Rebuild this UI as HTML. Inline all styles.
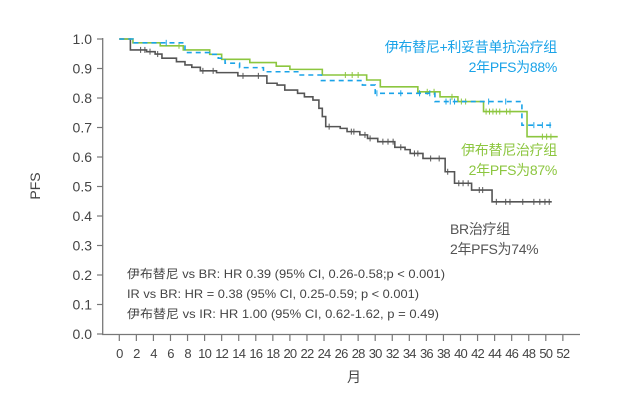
<!DOCTYPE html>
<html><head><meta charset="utf-8">
<style>
html,body{margin:0;padding:0;background:#fff;}
svg{display:block;font-family:"Liberation Sans","Noto Sans CJK SC",sans-serif;}
</style></head>
<body>
<svg id="chart" width="624" height="411" viewBox="0 0 624 411"></svg>
<script>
// ---- data ----
const xTicks = [0,2,4,6,8,10,12,14,16,18,20,22,24,26,28,30,32,34,36,38,40,42,44,46,48,50,52];
const yTicks = [0.0,0.1,0.2,0.3,0.4,0.5,0.6,0.7,0.8,0.9,1.0];
const brMonths = [0,1.3,3.2,4.2,5.0,6.7,7.7,8.5,9.5,11.4,13.9,17.3,18.5,19.4,20.9,21.7,22.7,23.4,23.8,24.2,25.9,26.7,28.2,29.1,30.3,32.3,33.5,34.1,35.6,38.2,39.3,41.3,43.7,50.7];
const brValues = [1.0,0.963,0.957,0.949,0.935,0.923,0.912,0.904,0.892,0.886,0.875,0.85,0.844,0.827,0.816,0.804,0.793,0.765,0.737,0.703,0.697,0.686,0.675,0.663,0.652,0.633,0.625,0.612,0.595,0.55,0.511,0.488,0.448,0.448];
const brCensor = [2.5,3.0,3.6,4.5,9.8,11.0,14.5,16.3,24.6,27.2,27.5,28.8,29.4,30.9,31.5,32.1,33.0,34.6,35.0,36.5,37.5,38.5,39.8,40.3,40.9,42.2,42.6,44.2,45.3,45.8,47.3,48.6,49.3,49.9,50.4];
const grMonths = [0,1.6,4.8,7.5,10.6,12.0,15.3,18.4,20.0,23.8,29.0,30.6,35.0,37.6,39.7,42.7,47.8,51.4];
const grValues = [1.0,0.987,0.977,0.963,0.948,0.931,0.92,0.908,0.897,0.878,0.861,0.838,0.821,0.804,0.788,0.754,0.669,0.669];
const grCensor = [7.0,26.5,27.3,28.0,36.1,36.9,39.0,40.1,40.6,43.0,43.4,43.8,44.2,44.6,45.4,45.8,49.6,50.1,50.6];
const irMonths = [0,1.6,7.7,10.6,11.6,12.4,14.1,16.9,21.1,23.7,28.5,30.0,37.0,47.2,51.0];
const irValues = [1.0,0.987,0.954,0.948,0.935,0.918,0.903,0.889,0.878,0.859,0.844,0.816,0.788,0.708,0.708];
const irCensor = [5.5,30.2,33.0,35.2,36.4,38.3,38.8,39.3,43.3,45.3,48.6,49.6,50.5];

// ---- scales ----
const X0=119.3, XS=8.53, Y0=334, YS=295;
const sx = m => X0 + m*XS;
const sy = v => Y0 - v*YS;
const NS="http://www.w3.org/2000/svg";
const svg=document.getElementById('chart');
function el(tag, attrs, parent){const e=document.createElementNS(NS,tag);for(const k in attrs)e.setAttribute(k,attrs[k]);(parent||svg).appendChild(e);return e;}
function txt(s, attrs, parent){const e=el('text',attrs,parent);e.textContent=s;return e;}

// axes
const axes=el('g',{});


const ya=el('line',{x1:102.7,y1:38,x2:102.7,y2:334.5,stroke:'#777','stroke-width':1.3},axes);


const xa=el('line',{x1:102,y1:334.5,x2:580,y2:334.5,stroke:'#777','stroke-width':1.3},axes);


yTicks.forEach(v=>{
  el('line',{x1:97,x2:102.7,y1:sy(v),y2:sy(v),stroke:'#777','stroke-width':1.2},axes);
  const t=txt(v.toFixed(1),{x:92,y:sy(v)+5,'text-anchor':'end','font-size':14,fill:'#444'},axes);
  
  
});
xTicks.forEach(m=>{
  el('line',{x1:sx(m),x2:sx(m),y1:334.5,y2:341,stroke:'#777','stroke-width':1.2},axes);
  const t=txt(String(m),{x:sx(m),y:358,'text-anchor':'middle','font-size':13,fill:'#444','letter-spacing':'-0.8'},axes);
  
  
});
const yt=txt('PFS',{x:0,y:0,transform:'translate(40,186) rotate(-90)','text-anchor':'middle','font-size':14,fill:'#444'});


const xt=txt('月',{x:354,y:382,'text-anchor':'middle','font-size':14,fill:'#444'});



function stepPath(ms,vs){let d='M'+sx(ms[0])+' '+sy(vs[0]);for(let i=1;i<ms.length;i++){d+=' H'+sx(ms[i])+' V'+sy(vs[i]);}return d;}
function valAt(ms,vs,m){let v=vs[0];for(let i=0;i<ms.length;i++){if(ms[i]<=m)v=vs[i];}return v;}
function series(name,ms,vs,cs,color,dash){
  const g=el('g',{});
  
  
  const p=el('path',{d:stepPath(ms,vs),fill:'none',stroke:color,'stroke-width':1.6,'stroke-dasharray':dash||'none'},g);
  
  
  cs.forEach(m=>{const y=sy(valAt(ms,vs,m));
    const c=el('line',{x1:sx(m),x2:sx(m),y1:y-3,y2:y+3,stroke:color,'stroke-width':1},g);
    
    
  });
}
series('br-series',brMonths,brValues,brCensor,'#555');
series('ibrutinib-series',grMonths,grValues,grCensor,'#8cc63f');
series('ir-series',irMonths,irValues,irCensor,'#1aa3e8','5,4');

function label(lines,x,y0,color,anchor,name){
  const g=el('g',{});
  
  
  lines.forEach((s,i)=>txt(s,{x:x,y:y0+i*20,'text-anchor':anchor,'font-size':14,fill:color,'letter-spacing':'-0.3'},g));
}
label(['伊布替尼+利妥昔单抗治疗组','2年PFS为88%'],557,52,'#1aa3e8','end','ir-legend');
label(['伊布替尼治疗组','2年PFS为87%'],557,155,'#8cc63f','end','ibrutinib-legend');
label(['BR治疗组','2年PFS为74%'],450,234,'#555','start','br-legend');

const stats=el('g',{});


txt('伊布替尼 vs BR: HR 0.39 (95% CI, 0.26-0.58;p < 0.001)',{x:127,y:278,'font-size':12,fill:'#444',textLength:318,lengthAdjust:'spacingAndGlyphs'},stats);
txt('IR vs BR: HR = 0.38 (95% CI, 0.25-0.59; p < 0.001)',{x:127,y:298,'font-size':12,fill:'#444',textLength:292,lengthAdjust:'spacingAndGlyphs'},stats);
txt('伊布替尼 vs IR: HR 1.00 (95% CI, 0.62-1.62, p = 0.49)',{x:127,y:318,'font-size':12,fill:'#444',textLength:312,lengthAdjust:'spacingAndGlyphs'},stats);
</script>
</body></html>
